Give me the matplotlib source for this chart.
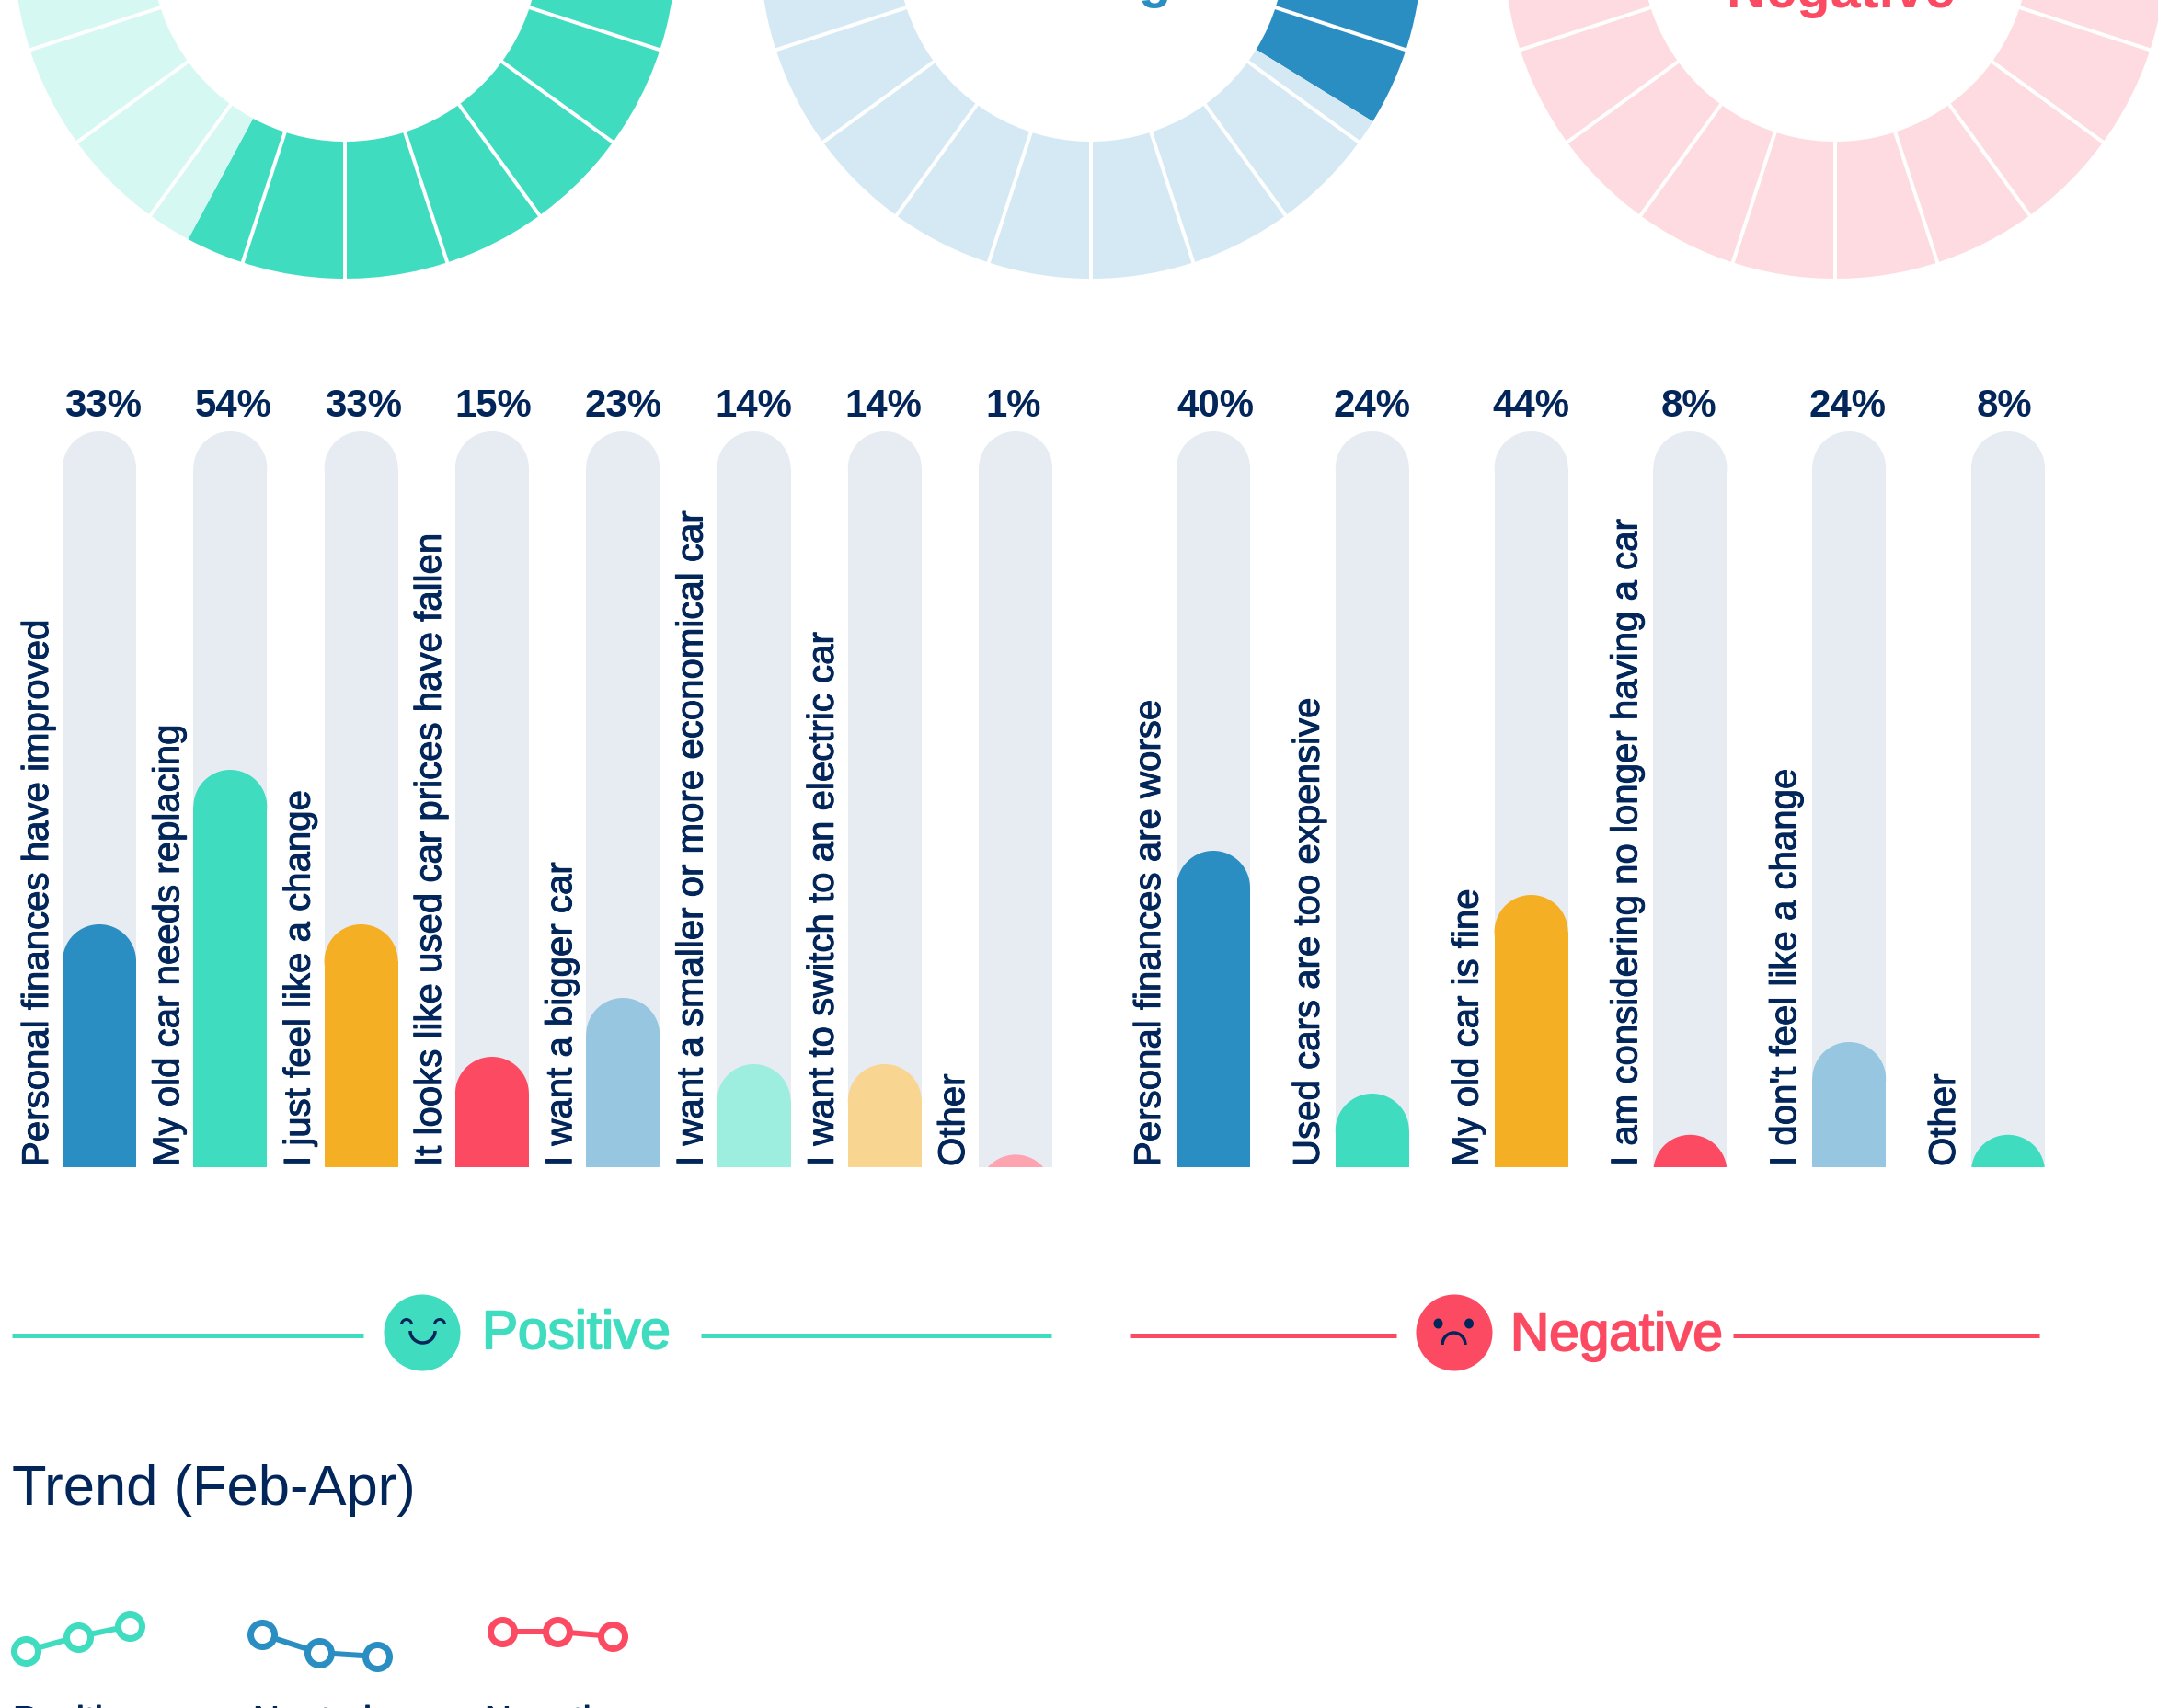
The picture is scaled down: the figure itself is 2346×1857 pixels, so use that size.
import matplotlib
matplotlib.use("Agg")
import matplotlib.pyplot as plt
import matplotlib.patheffects as pe
from matplotlib.patches import Ellipse, Arc, Circle
import numpy as np

W, H, DPI = 2346, 1857, 100
FONT = "Liberation Sans"
NAVY = "#02265A"; GREEN = "#3FDCC0"; BLUE = "#2B8EC3"; RED = "#FD4A63"; ORANGE = "#F5AF24"
TRACK = "#E7ECF3"; LBLUE = "#96C6E0"; LGREEN = "#9EEEDF"; LORANGE = "#F9D592"; LRED = "#FEA4B1"

# ---- data ----
donut_names = ["Positive", "Neutral", "Negative"]
donut_values = [57.85, 33.8, 8]
donut_dark = [GREEN, BLUE, RED]
donut_light = ["#D6F8F2", "#D5E9F4", "#FEDBE0"]

pos_labels = ["Personal finances have improved", "My old car needs replacing", "I just feel like a change",
              "It looks like used car prices have fallen", "I want a bigger car",
              "I want a smaller or more economical car", "I want to switch to an electric car", "Other"]
pos_heights = [33, 54, 33, 15, 23, 14, 14, 1.7]   # drawn heights
pos_pct = ["33%", "54%", "33%", "15%", "23%", "14%", "14%", "1%"]
pos_colors = [BLUE, GREEN, ORANGE, RED, LBLUE, LGREEN, LORANGE, LRED]

neg_labels = ["Personal finances are worse", "Used cars are too expensive", "My old car is fine",
              "I am considering no longer having a car", "I don't feel like a change", "Other"]
neg_heights = [43, 10, 37, 4.4, 17, 4.4]   # drawn heights
neg_pct = ["40%", "24%", "44%", "8%", "24%", "8%"]
neg_colors = [BLUE, GREEN, ORANGE, RED, LBLUE, GREEN]

months = [0, 1, 2]
trend_pos = [51, 55, 58]
trend_neu = [40, 35, 34]
trend_neg = [9, 9, 8]
trend_names = ["Positive", "Neutral", "Negative"]

fig = plt.figure(figsize=(W / DPI, H / DPI), dpi=DPI, facecolor="white")


def px_axes(x0, y0, x1, y1, **kw):
    """Axes whose box is given in image pixels (y downwards)."""
    ax = fig.add_axes([x0 / W, 1 - y1 / H, (x1 - x0) / W, (y1 - y0) / H], **kw)
    ax.axis("off")
    return ax


def pt(px):
    return px * 72 / DPI


# overlay for text and rules, pixel coordinates
ov = px_axes(0, 0, W, H, zorder=10)
ov.patch.set_alpha(0)
ov.set_xlim(0, W)
ov.set_ylim(H, 0)


def label(x, y, s, size, color=NAVY, weight="normal", stroke=0.0, **kw):
    t = ov.text(x, y, s, fontsize=pt(size), color=color, family=FONT, fontweight=weight,
                va=kw.pop("va", "baseline"), ha=kw.pop("ha", "left"), **kw)
    if stroke:
        t.set_path_effects([pe.withStroke(linewidth=pt(stroke), foreground=color)])
    return t


# ---- donuts ----
R, r_in, cy = 360, 211, -57
for cx, val, dark, light in zip([375, 1186, 1995], donut_values, donut_dark, donut_light):
    m = 1.02
    ax = px_axes(cx - R * m, cy - R * m, cx + R * m, cy + R * m)
    ax.pie([val, 100 - val], colors=[dark, light], startangle=90, counterclock=False, radius=1,
           wedgeprops=dict(width=1 - r_in / R, linewidth=0))
    ax.set_xlim(-m, m)
    ax.set_ylim(-m, m)
    for th in np.deg2rad(np.arange(0, 360, 18)):
        ax.plot([r_in / R * 0.98 * np.sin(th), 1.01 * np.sin(th)],
                [r_in / R * 0.98 * np.cos(th), 1.01 * np.cos(th)],
                color="white", lw=pt(4), solid_capstyle="butt")

label(2001, 8, "Negative", 59.5, color=RED, weight="bold", ha="center")
label(1255, -3, "g", 58, color=BLUE, weight="bold", ha="center")

# ---- capsule bars ----
TOP, BOTTOM, BW = 469, 1269, 80


def capsule_group(x_left, step, heights, colors, pct, names, pct_dx, name_dx):
    n = len(heights)
    ax = px_axes(x_left - 2, TOP, x_left + step * (n - 1) + BW + 2, BOTTOM)
    ax.set_xlim(x_left - 2, x_left + step * (n - 1) + BW + 2)
    ax.set_ylim(0, 100)
    rad = (BW / 2) / ((BOTTOM - TOP) / 100)
    xs = x_left + step * np.arange(n)

    def capsule(x, v, c, z):
        if v > rad:
            ax.bar(x + BW / 2, v - rad, width=BW, bottom=0, color=c, linewidth=0, zorder=z)
        ax.add_patch(Ellipse((x + BW / 2, v - rad), BW, 2 * rad, color=c, linewidth=0, zorder=z))

    for x, v, c, p, s, dx in zip(xs, heights, colors, pct, names, pct_dx):
        capsule(x, 100, TRACK, 1)
        capsule(x, v, c, 2)
        label(x + BW / 2 + dx, 453, p, 42, weight="bold", ha="center")
        label(x - name_dx, 1268, s, 40.2, rotation=90, rotation_mode="anchor", stroke=1.0)


capsule_group(68, 142.3, pos_heights, pos_colors, pos_pct, pos_labels,
              [4, 3, 2, 1, 0, 0, -1, -2], 16)
capsule_group(1279, 172.8, neg_heights, neg_colors, neg_pct, neg_labels,
              [2, 0, 0, -1, -2, -4], 18)

# ---- section rules and faces ----
for x0, x1, c in [(13, 395, GREEN), (762, 1143, GREEN), (1228, 1518, RED), (1884, 2217, RED)]:
    ov.plot([x0, x1], [1452, 1452], color=c, lw=pt(5), solid_capstyle="butt")

ov.add_patch(Circle((459, 1449), 41.5, color=GREEN, linewidth=0))
ov.add_patch(Circle((1581, 1449), 41.5, color=RED, linewidth=0))
for ex in (442, 478):
    ov.add_patch(Arc((ex, 1440), 11, 11, theta1=180, theta2=360, color=NAVY, lw=pt(3)))
ov.add_patch(Arc((459.5, 1447), 27, 26, theta1=0, theta2=180, color=NAVY, lw=pt(3.5)))
for ex in (1563.5, 1597):
    ov.add_patch(Ellipse((ex, 1439), 10, 11, color=NAVY, linewidth=0))
ov.add_patch(Arc((1580.5, 1462), 25, 26, theta1=180, theta2=360, color=NAVY, lw=pt(3.5)))

label(524, 1466, "Positive", 58.5, color=GREEN, stroke=2.0)
label(1642, 1468, "Negative", 58.5, color=RED, stroke=2.0)

# ---- trend ----
label(13, 1636, "Trend (Feb-Apr)", 61.5)


def spark(x0, x1, y_low, y_high, vals, c):
    ax = px_axes(x0, y_high, x1, y_low)
    ax.set_xlim(months[0], months[-1])
    ax.set_ylim(min(vals), max(vals))
    ax.plot(months, vals, color=c, lw=pt(6), marker="o", ms=pt(26), mfc="white", mec=c,
            mew=pt(7), clip_on=False, solid_capstyle="butt")


spark(28.5, 140.5, 1795, 1768, trend_pos, GREEN)
spark(284.7, 410, 1801, 1777, trend_neu, BLUE)
spark(546, 666, 1779, 1774, trend_neg, RED)

for x, s in zip([14, 275, 527], trend_names):
    label(x, 1883, s, 40, stroke=1.0)

fig.savefig("out.png", dpi=DPI, facecolor="white")
